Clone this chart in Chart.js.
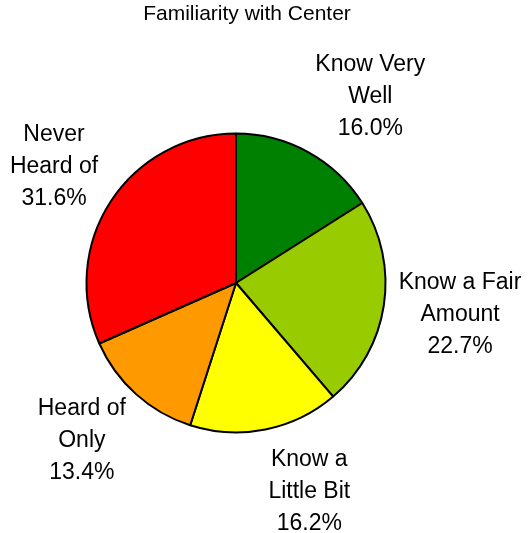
<!DOCTYPE html>
<html>
<head>
<meta charset="utf-8">
<title>Familiarity with Center</title>
<script src="https://cdn.jsdelivr.net/npm/chart.js@4/dist/chart.umd.min.js"></script>
<style>
  html, body { margin: 0; padding: 0; background: #fff; }
  #wrap { width: 530px; height: 533px; }
</style>
</head>
<body>
<div id="wrap"><canvas id="familiarityPie" width="530" height="533"></canvas></div>
<script>
const chartTitle = "Familiarity with Center";
const categories = [
    ["Know Very", "Well"],
    ["Know a Fair", "Amount"],
    ["Know a", "Little Bit"],
    ["Heard of", "Only"],
    ["Never", "Heard of"],
];
const shares = [16.0, 22.7, 16.2, 13.4, 31.6];
const sliceColors = ["#008000", "#99cc00", "#ffff00", "#ff9900", "#ff0000"];

const FONT = '"Liberation Sans", Arial, sans-serif';
const LINE_GAP = 32;

// labels sit outside each slice, pushed away from the pie along the mid angle
const outsideLabels = {
    id: "outsideLabels",
    afterDatasetsDraw(chart) {
        const ctx = chart.ctx;
        const meta = chart.getDatasetMeta(0);
        ctx.save();
        ctx.fillStyle = "#000";
        ctx.textAlign = "center";
        ctx.textBaseline = "middle";
        ctx.font = "23px " + FONT;
        meta.data.forEach((arc, i) => {
            const p = arc.getProps(["x", "y", "startAngle", "endAngle", "outerRadius"], true);
            const mid = (p.startAngle + p.endAngle) / 2;
            const dx = Math.cos(mid);
            const dy = Math.sin(mid);
            const lines = [...categories[i], shares[i].toFixed(1) + "%"];
            const w = Math.max(...lines.map((l) => ctx.measureText(l).width));
            const h = lines.length * LINE_GAP;
            const ax = p.x + dx * (p.outerRadius + 15);
            const ay = p.y + dy * (p.outerRadius + 15);
            const cx = ax + Math.sign(dx) * w / 2;
            const cy = ay + dy * h / 2;
            lines.forEach((l, j) => {
                ctx.fillText(l, cx, cy + (j - (lines.length - 1) / 2) * LINE_GAP);
            });
        });

        ctx.font = "21px " + FONT;
        ctx.fillText(chartTitle, 247, 14.5);
        ctx.restore();
    },
};

const ctx = document.getElementById("familiarityPie").getContext("2d");
new Chart(ctx, {
    type: "pie",
    data: {
        labels: categories,
        datasets: [
            {
                data: shares,
                backgroundColor: sliceColors,
                borderColor: "#000",
                borderWidth: 2,
            },
        ],
    },
    options: {
        responsive: false,
        animation: false,
        layout: {
            padding: { left: 85.5, right: 143.5, top: 33, bottom: 0 },
        },
        plugins: {
            legend: { display: false },
            tooltip: { enabled: false },
            title: { display: false },
        },
    },
    plugins: [outsideLabels],
});
</script>
</body>
</html>
